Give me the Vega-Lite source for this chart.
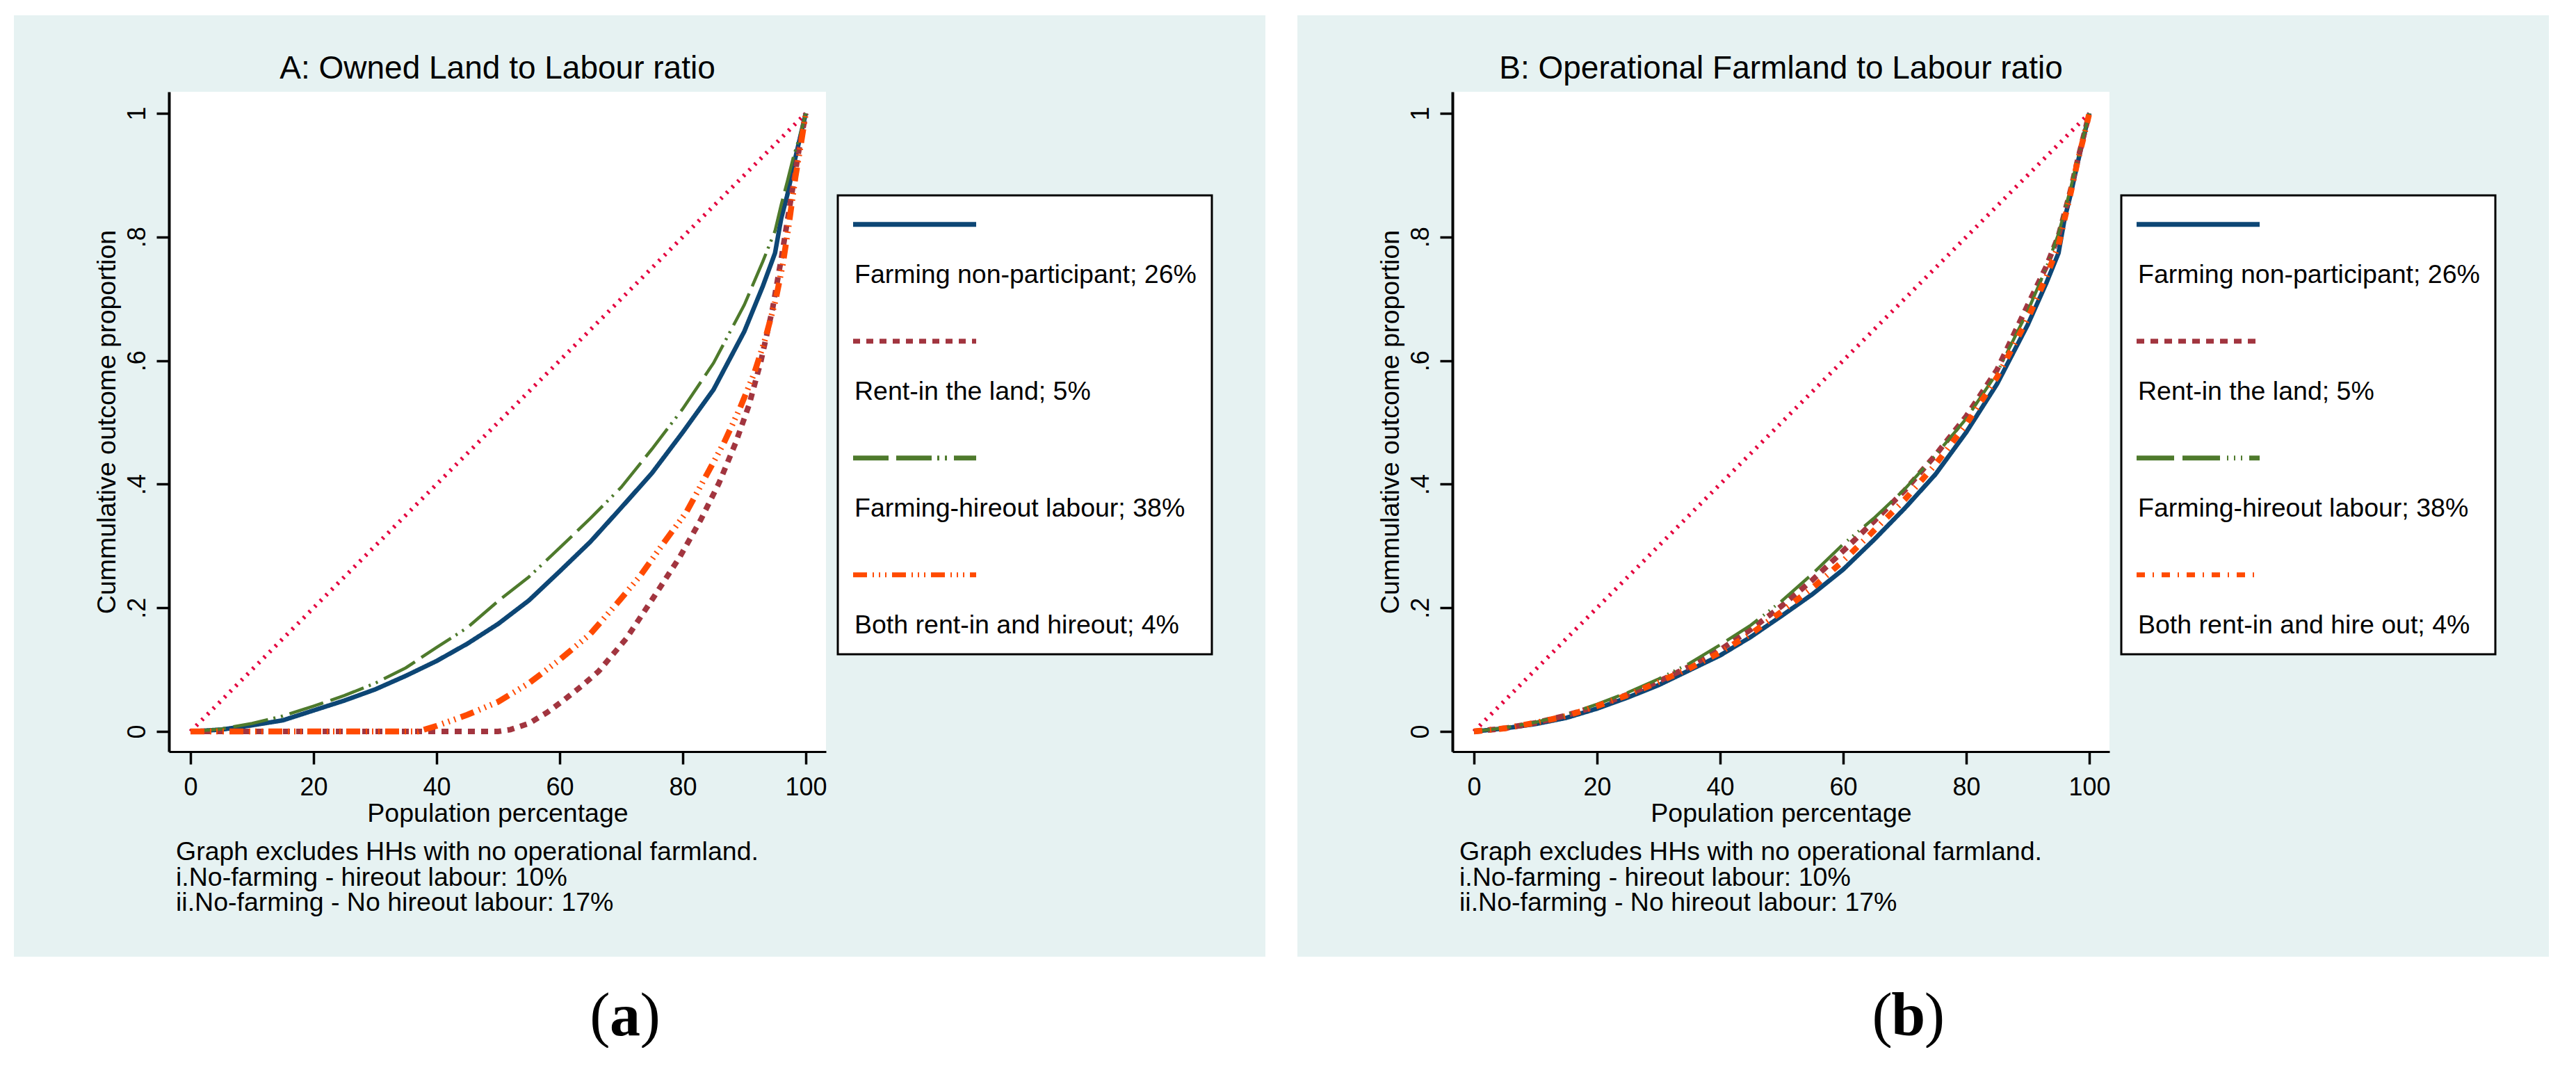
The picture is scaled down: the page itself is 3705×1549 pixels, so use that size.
{
  "$schema": "https://vega.github.io/schema/vega-lite/v6.json",
  "background": "white",
  "padding": {"left": 19, "top": 22, "right": 0, "bottom": 0},
  "spacing": 44,
  "datasets": {
    "equality": [{"x": 0, "y": 0}, {"x": 100, "y": 1}],
    "lorenzA": [
      {"g": "Farming non-participant; 26%", "x": 0, "y": 0},
      {"g": "Farming non-participant; 26%", "x": 5, "y": 0.003},
      {"g": "Farming non-participant; 26%", "x": 10, "y": 0.01},
      {"g": "Farming non-participant; 26%", "x": 15, "y": 0.018},
      {"g": "Farming non-participant; 26%", "x": 20, "y": 0.034},
      {"g": "Farming non-participant; 26%", "x": 25, "y": 0.05},
      {"g": "Farming non-participant; 26%", "x": 30, "y": 0.068},
      {"g": "Farming non-participant; 26%", "x": 35, "y": 0.09},
      {"g": "Farming non-participant; 26%", "x": 40, "y": 0.114},
      {"g": "Farming non-participant; 26%", "x": 45, "y": 0.142},
      {"g": "Farming non-participant; 26%", "x": 50, "y": 0.174},
      {"g": "Farming non-participant; 26%", "x": 55, "y": 0.212},
      {"g": "Farming non-participant; 26%", "x": 60, "y": 0.259},
      {"g": "Farming non-participant; 26%", "x": 65, "y": 0.307},
      {"g": "Farming non-participant; 26%", "x": 70, "y": 0.362},
      {"g": "Farming non-participant; 26%", "x": 75, "y": 0.418},
      {"g": "Farming non-participant; 26%", "x": 80, "y": 0.484},
      {"g": "Farming non-participant; 26%", "x": 85, "y": 0.553},
      {"g": "Farming non-participant; 26%", "x": 90, "y": 0.647},
      {"g": "Farming non-participant; 26%", "x": 93, "y": 0.72},
      {"g": "Farming non-participant; 26%", "x": 95, "y": 0.774},
      {"g": "Farming non-participant; 26%", "x": 96, "y": 0.83},
      {"g": "Farming non-participant; 26%", "x": 97, "y": 0.868},
      {"g": "Farming non-participant; 26%", "x": 98, "y": 0.915},
      {"g": "Farming non-participant; 26%", "x": 99, "y": 0.958},
      {"g": "Farming non-participant; 26%", "x": 100, "y": 1},
      {"g": "Rent-in the land; 5%", "x": 0, "y": 0},
      {"g": "Rent-in the land; 5%", "x": 10, "y": 0},
      {"g": "Rent-in the land; 5%", "x": 20, "y": 0},
      {"g": "Rent-in the land; 5%", "x": 30, "y": 0},
      {"g": "Rent-in the land; 5%", "x": 40, "y": 0},
      {"g": "Rent-in the land; 5%", "x": 50, "y": 0},
      {"g": "Rent-in the land; 5%", "x": 52, "y": 0.003},
      {"g": "Rent-in the land; 5%", "x": 55, "y": 0.013},
      {"g": "Rent-in the land; 5%", "x": 58, "y": 0.031},
      {"g": "Rent-in the land; 5%", "x": 60.7, "y": 0.051},
      {"g": "Rent-in the land; 5%", "x": 63.5, "y": 0.073},
      {"g": "Rent-in the land; 5%", "x": 66.3, "y": 0.097},
      {"g": "Rent-in the land; 5%", "x": 70.8, "y": 0.15},
      {"g": "Rent-in the land; 5%", "x": 75.4, "y": 0.219},
      {"g": "Rent-in the land; 5%", "x": 79.5, "y": 0.282},
      {"g": "Rent-in the land; 5%", "x": 82.9, "y": 0.342},
      {"g": "Rent-in the land; 5%", "x": 85.9, "y": 0.402},
      {"g": "Rent-in the land; 5%", "x": 88.6, "y": 0.467},
      {"g": "Rent-in the land; 5%", "x": 90.8, "y": 0.529},
      {"g": "Rent-in the land; 5%", "x": 92.7, "y": 0.599},
      {"g": "Rent-in the land; 5%", "x": 94.6, "y": 0.684},
      {"g": "Rent-in the land; 5%", "x": 96.1, "y": 0.77},
      {"g": "Rent-in the land; 5%", "x": 97.6, "y": 0.863},
      {"g": "Rent-in the land; 5%", "x": 98.9, "y": 0.942},
      {"g": "Rent-in the land; 5%", "x": 100, "y": 1},
      {"g": "Farming-hireout labour; 38%", "x": 0, "y": 0},
      {"g": "Farming-hireout labour; 38%", "x": 5, "y": 0.004},
      {"g": "Farming-hireout labour; 38%", "x": 10, "y": 0.013},
      {"g": "Farming-hireout labour; 38%", "x": 15, "y": 0.025},
      {"g": "Farming-hireout labour; 38%", "x": 20, "y": 0.041},
      {"g": "Farming-hireout labour; 38%", "x": 25, "y": 0.058},
      {"g": "Farming-hireout labour; 38%", "x": 30, "y": 0.078},
      {"g": "Farming-hireout labour; 38%", "x": 35, "y": 0.103},
      {"g": "Farming-hireout labour; 38%", "x": 40, "y": 0.136},
      {"g": "Farming-hireout labour; 38%", "x": 45, "y": 0.168},
      {"g": "Farming-hireout labour; 38%", "x": 50, "y": 0.211},
      {"g": "Farming-hireout labour; 38%", "x": 55, "y": 0.25},
      {"g": "Farming-hireout labour; 38%", "x": 60, "y": 0.297},
      {"g": "Farming-hireout labour; 38%", "x": 65, "y": 0.345},
      {"g": "Farming-hireout labour; 38%", "x": 70, "y": 0.395},
      {"g": "Farming-hireout labour; 38%", "x": 75, "y": 0.457},
      {"g": "Farming-hireout labour; 38%", "x": 80, "y": 0.522},
      {"g": "Farming-hireout labour; 38%", "x": 85, "y": 0.596},
      {"g": "Farming-hireout labour; 38%", "x": 90, "y": 0.69},
      {"g": "Farming-hireout labour; 38%", "x": 93, "y": 0.76},
      {"g": "Farming-hireout labour; 38%", "x": 95, "y": 0.81},
      {"g": "Farming-hireout labour; 38%", "x": 96, "y": 0.852},
      {"g": "Farming-hireout labour; 38%", "x": 97, "y": 0.89},
      {"g": "Farming-hireout labour; 38%", "x": 98, "y": 0.93},
      {"g": "Farming-hireout labour; 38%", "x": 99, "y": 0.962},
      {"g": "Farming-hireout labour; 38%", "x": 100, "y": 1},
      {"g": "Both rent-in and hireout; 4%", "x": 0, "y": 0},
      {"g": "Both rent-in and hireout; 4%", "x": 10, "y": 0},
      {"g": "Both rent-in and hireout; 4%", "x": 20, "y": 0},
      {"g": "Both rent-in and hireout; 4%", "x": 30, "y": 0},
      {"g": "Both rent-in and hireout; 4%", "x": 37, "y": 0},
      {"g": "Both rent-in and hireout; 4%", "x": 40, "y": 0.009},
      {"g": "Both rent-in and hireout; 4%", "x": 42.5, "y": 0.018},
      {"g": "Both rent-in and hireout; 4%", "x": 45, "y": 0.027},
      {"g": "Both rent-in and hireout; 4%", "x": 50, "y": 0.048},
      {"g": "Both rent-in and hireout; 4%", "x": 55, "y": 0.078},
      {"g": "Both rent-in and hireout; 4%", "x": 60, "y": 0.116},
      {"g": "Both rent-in and hireout; 4%", "x": 65, "y": 0.158},
      {"g": "Both rent-in and hireout; 4%", "x": 69.3, "y": 0.207},
      {"g": "Both rent-in and hireout; 4%", "x": 73.1, "y": 0.252},
      {"g": "Both rent-in and hireout; 4%", "x": 76.9, "y": 0.305},
      {"g": "Both rent-in and hireout; 4%", "x": 80.6, "y": 0.355},
      {"g": "Both rent-in and hireout; 4%", "x": 83.6, "y": 0.41},
      {"g": "Both rent-in and hireout; 4%", "x": 86.7, "y": 0.467},
      {"g": "Both rent-in and hireout; 4%", "x": 89.3, "y": 0.523},
      {"g": "Both rent-in and hireout; 4%", "x": 91.6, "y": 0.579},
      {"g": "Both rent-in and hireout; 4%", "x": 93.4, "y": 0.635},
      {"g": "Both rent-in and hireout; 4%", "x": 95.1, "y": 0.698},
      {"g": "Both rent-in and hireout; 4%", "x": 96.3, "y": 0.758},
      {"g": "Both rent-in and hireout; 4%", "x": 97.2, "y": 0.817},
      {"g": "Both rent-in and hireout; 4%", "x": 98.3, "y": 0.896},
      {"g": "Both rent-in and hireout; 4%", "x": 99.2, "y": 0.95},
      {"g": "Both rent-in and hireout; 4%", "x": 100, "y": 1}
    ],
    "lorenzB": [
      {"g": "Farming non-participant; 26%", "x": 0, "y": 0},
      {"g": "Farming non-participant; 26%", "x": 5, "y": 0.005},
      {"g": "Farming non-participant; 26%", "x": 10, "y": 0.012},
      {"g": "Farming non-participant; 26%", "x": 15, "y": 0.022},
      {"g": "Farming non-participant; 26%", "x": 20, "y": 0.037},
      {"g": "Farming non-participant; 26%", "x": 25, "y": 0.055},
      {"g": "Farming non-participant; 26%", "x": 30, "y": 0.075},
      {"g": "Farming non-participant; 26%", "x": 35, "y": 0.099},
      {"g": "Farming non-participant; 26%", "x": 40, "y": 0.123},
      {"g": "Farming non-participant; 26%", "x": 45, "y": 0.153},
      {"g": "Farming non-participant; 26%", "x": 50, "y": 0.187},
      {"g": "Farming non-participant; 26%", "x": 55, "y": 0.222},
      {"g": "Farming non-participant; 26%", "x": 60, "y": 0.262},
      {"g": "Farming non-participant; 26%", "x": 65, "y": 0.31},
      {"g": "Farming non-participant; 26%", "x": 70, "y": 0.361},
      {"g": "Farming non-participant; 26%", "x": 75, "y": 0.416},
      {"g": "Farming non-participant; 26%", "x": 80, "y": 0.484},
      {"g": "Farming non-participant; 26%", "x": 85, "y": 0.562},
      {"g": "Farming non-participant; 26%", "x": 90, "y": 0.658},
      {"g": "Farming non-participant; 26%", "x": 93, "y": 0.725},
      {"g": "Farming non-participant; 26%", "x": 95, "y": 0.774},
      {"g": "Farming non-participant; 26%", "x": 96, "y": 0.83},
      {"g": "Farming non-participant; 26%", "x": 97, "y": 0.87},
      {"g": "Farming non-participant; 26%", "x": 98, "y": 0.915},
      {"g": "Farming non-participant; 26%", "x": 99, "y": 0.958},
      {"g": "Farming non-participant; 26%", "x": 100, "y": 1},
      {"g": "Rent-in the land; 5%", "x": 0, "y": 0},
      {"g": "Rent-in the land; 5%", "x": 5, "y": 0.005},
      {"g": "Rent-in the land; 5%", "x": 10, "y": 0.014},
      {"g": "Rent-in the land; 5%", "x": 15, "y": 0.026},
      {"g": "Rent-in the land; 5%", "x": 20, "y": 0.041},
      {"g": "Rent-in the land; 5%", "x": 25, "y": 0.06},
      {"g": "Rent-in the land; 5%", "x": 30, "y": 0.081},
      {"g": "Rent-in the land; 5%", "x": 35, "y": 0.105},
      {"g": "Rent-in the land; 5%", "x": 40, "y": 0.132},
      {"g": "Rent-in the land; 5%", "x": 45, "y": 0.165},
      {"g": "Rent-in the land; 5%", "x": 50, "y": 0.203},
      {"g": "Rent-in the land; 5%", "x": 55, "y": 0.245},
      {"g": "Rent-in the land; 5%", "x": 60, "y": 0.292},
      {"g": "Rent-in the land; 5%", "x": 65, "y": 0.34},
      {"g": "Rent-in the land; 5%", "x": 70, "y": 0.39},
      {"g": "Rent-in the land; 5%", "x": 75, "y": 0.447},
      {"g": "Rent-in the land; 5%", "x": 80, "y": 0.51},
      {"g": "Rent-in the land; 5%", "x": 85, "y": 0.585},
      {"g": "Rent-in the land; 5%", "x": 90, "y": 0.69},
      {"g": "Rent-in the land; 5%", "x": 93, "y": 0.752},
      {"g": "Rent-in the land; 5%", "x": 95, "y": 0.802},
      {"g": "Rent-in the land; 5%", "x": 97, "y": 0.877},
      {"g": "Rent-in the land; 5%", "x": 98, "y": 0.92},
      {"g": "Rent-in the land; 5%", "x": 99, "y": 0.96},
      {"g": "Rent-in the land; 5%", "x": 100, "y": 1},
      {"g": "Farming-hireout labour; 38%", "x": 0, "y": 0},
      {"g": "Farming-hireout labour; 38%", "x": 5, "y": 0.006},
      {"g": "Farming-hireout labour; 38%", "x": 10, "y": 0.015},
      {"g": "Farming-hireout labour; 38%", "x": 15, "y": 0.027},
      {"g": "Farming-hireout labour; 38%", "x": 20, "y": 0.044},
      {"g": "Farming-hireout labour; 38%", "x": 25, "y": 0.063},
      {"g": "Farming-hireout labour; 38%", "x": 30, "y": 0.085},
      {"g": "Farming-hireout labour; 38%", "x": 35, "y": 0.11},
      {"g": "Farming-hireout labour; 38%", "x": 40, "y": 0.14},
      {"g": "Farming-hireout labour; 38%", "x": 45, "y": 0.172},
      {"g": "Farming-hireout labour; 38%", "x": 50, "y": 0.211},
      {"g": "Farming-hireout labour; 38%", "x": 55, "y": 0.255},
      {"g": "Farming-hireout labour; 38%", "x": 60, "y": 0.303},
      {"g": "Farming-hireout labour; 38%", "x": 65, "y": 0.345},
      {"g": "Farming-hireout labour; 38%", "x": 70, "y": 0.392},
      {"g": "Farming-hireout labour; 38%", "x": 75, "y": 0.447},
      {"g": "Farming-hireout labour; 38%", "x": 80, "y": 0.506},
      {"g": "Farming-hireout labour; 38%", "x": 85, "y": 0.58},
      {"g": "Farming-hireout labour; 38%", "x": 90, "y": 0.68},
      {"g": "Farming-hireout labour; 38%", "x": 93, "y": 0.75},
      {"g": "Farming-hireout labour; 38%", "x": 95, "y": 0.805},
      {"g": "Farming-hireout labour; 38%", "x": 97, "y": 0.88},
      {"g": "Farming-hireout labour; 38%", "x": 98, "y": 0.922},
      {"g": "Farming-hireout labour; 38%", "x": 99, "y": 0.961},
      {"g": "Farming-hireout labour; 38%", "x": 100, "y": 1},
      {"g": "Both rent-in and hire out; 4%", "x": 0, "y": 0},
      {"g": "Both rent-in and hire out; 4%", "x": 5, "y": 0.005},
      {"g": "Both rent-in and hire out; 4%", "x": 10, "y": 0.014},
      {"g": "Both rent-in and hire out; 4%", "x": 15, "y": 0.025},
      {"g": "Both rent-in and hire out; 4%", "x": 20, "y": 0.041},
      {"g": "Both rent-in and hire out; 4%", "x": 25, "y": 0.059},
      {"g": "Both rent-in and hire out; 4%", "x": 30, "y": 0.08},
      {"g": "Both rent-in and hire out; 4%", "x": 35, "y": 0.102},
      {"g": "Both rent-in and hire out; 4%", "x": 40, "y": 0.128},
      {"g": "Both rent-in and hire out; 4%", "x": 45, "y": 0.158},
      {"g": "Both rent-in and hire out; 4%", "x": 50, "y": 0.194},
      {"g": "Both rent-in and hire out; 4%", "x": 55, "y": 0.232},
      {"g": "Both rent-in and hire out; 4%", "x": 60, "y": 0.276},
      {"g": "Both rent-in and hire out; 4%", "x": 65, "y": 0.325},
      {"g": "Both rent-in and hire out; 4%", "x": 70, "y": 0.375},
      {"g": "Both rent-in and hire out; 4%", "x": 75, "y": 0.432},
      {"g": "Both rent-in and hire out; 4%", "x": 80, "y": 0.497},
      {"g": "Both rent-in and hire out; 4%", "x": 85, "y": 0.573},
      {"g": "Both rent-in and hire out; 4%", "x": 90, "y": 0.668},
      {"g": "Both rent-in and hire out; 4%", "x": 93, "y": 0.735},
      {"g": "Both rent-in and hire out; 4%", "x": 95, "y": 0.787},
      {"g": "Both rent-in and hire out; 4%", "x": 97, "y": 0.872},
      {"g": "Both rent-in and hire out; 4%", "x": 98, "y": 0.918},
      {"g": "Both rent-in and hire out; 4%", "x": 99, "y": 0.958},
      {"g": "Both rent-in and hire out; 4%", "x": 100, "y": 1}
    ]
  },
  "hconcat": [
    {
      "width": 945,
      "height": 949,
      "layer": [
        {
          "data": {"values": [{}]},
          "mark": {"type": "rect", "color": "#e6f2f2", "clip": false},
          "encoding": {
            "x": {
              "datum": -28.702, "type": "quantitative",
              "scale": {"domain": [-3.503, 103.28], "nice": false, "zero": false},
              "axis": {"title": "Population percentage", "values": [0, 20, 40, 60, 80, 100], "domainWidth": 3, "labelBaseline": "alphabetic", "labelPadding": 44, "titleBaseline": "alphabetic", "titleY": 100, "zindex": 1}
            },
            "x2": {"datum": 174.697},
            "y": {
              "datum": 1.15863, "type": "quantitative",
              "scale": {"domain": [-0.0326, 1.0349], "nice": false, "zero": false},
              "axis": {"title": "Cummulative outcome proportion", "values": [0, 0.2, 0.4, 0.6, 0.8, 1], "labelExpr": "replace(format(datum.value, '.1~f'), '0.', '.')", "labelAngle": -90, "labelAlign": "center", "labelBaseline": "alphabetic", "labelPadding": 17, "domainWidth": 4, "titleX": -78, "titleY": 474.5, "titleAngle": -90, "titleAlign": "center", "titleBaseline": "alphabetic", "zindex": 1}
            },
            "y2": {"datum": -0.36443}
          }
        },
        {
          "data": {"values": [{}]},
          "mark": {"type": "rect", "color": "white"},
          "encoding": {
            "x": {"datum": -3.503, "type": "quantitative"},
            "x2": {"datum": 103.28},
            "y": {"datum": -0.0326, "type": "quantitative"},
            "y2": {"datum": 1.0349}
          }
        },
        {
          "data": {"name": "equality"},
          "mark": {"type": "line", "color": "#e4003e", "strokeWidth": 6, "strokeDash": [3, 8.5]},
          "encoding": {
            "x": {"field": "x", "type": "quantitative"},
            "y": {"field": "y", "type": "quantitative"}
          }
        },
        {
          "data": {"name": "lorenzA"},
          "encoding": {
            "x": {"field": "x", "type": "quantitative"},
            "y": {"field": "y", "type": "quantitative"},
            "color": {
              "field": "g", "type": "nominal",
              "scale": {"domain": ["Farming non-participant; 26%", "Rent-in the land; 5%", "Farming-hireout labour; 38%", "Both rent-in and hireout; 4%"], "range": ["#0d4675", "#a2353f", "#4e7a2c", "#ff4a00"]},
              "legend": {"title": " ", "orient": "none", "legendX": 962, "legendY": 149, "zindex": 1}
            },
            "strokeDash": {
              "field": "g", "type": "nominal",
              "scale": {"domain": ["Farming non-participant; 26%", "Rent-in the land; 5%", "Farming-hireout labour; 38%", "Both rent-in and hireout; 4%"], "range": [[1, 0], [10, 9], [51, 11, 51, 8, 3, 8, 3, 10], [20, 8, 2, 7, 2, 7, 2, 8]]},
              "legend": {"title": " ", "orient": "none", "legendX": 962, "legendY": 149, "zindex": 1}
            }
          },
          "layer": [
            {"transform": [{"filter": "datum.g === 'Farming non-participant; 26%'"}], "mark": {"type": "line", "strokeWidth": 6.5}},
            {"transform": [{"filter": "datum.g === 'Rent-in the land; 5%'"}], "mark": {"type": "line", "strokeWidth": 8}},
            {"transform": [{"filter": "datum.g === 'Farming-hireout labour; 38%'"}], "mark": {"type": "line", "strokeWidth": 4.5}},
            {"transform": [{"filter": "datum.g === 'Both rent-in and hireout; 4%'"}], "mark": {"type": "line", "strokeWidth": 8.5}}
          ]
        },
        {
          "data": {"values": [{}]},
          "mark": {"type": "text", "text": "A: Owned Land to Labour ratio", "fontSize": 46, "align": "center", "baseline": "alphabetic", "color": "black", "clip": false},
          "encoding": {
            "x": {"datum": 49.89, "type": "quantitative"},
            "y": {"datum": 1.0563, "type": "quantitative"}
          }
        },
        {
          "data": {"values": [{}]},
          "mark": {"type": "text", "text": ["Graph excludes HHs with no operational farmland.", "i.No-farming - hireout labour: 10%", "ii.No-farming - No hireout labour: 17%"], "fontSize": 37.5, "lineHeight": 36.7, "align": "left", "baseline": "alphabetic", "color": "black", "clip": false},
          "encoding": {
            "x": {"datum": -2.373, "type": "quantitative"},
            "y": {"datum": -0.2081, "type": "quantitative"}
          }
        },
        {
          "data": {"values": [{}]},
          "mark": {"type": "text", "text": "(", "font": "Liberation Serif", "fontSize": 88, "align": "right", "baseline": "alphabetic", "color": "black", "clip": false},
          "encoding": {
            "x": {"datum": 68.2, "type": "quantitative"},
            "y": {"datum": -0.4915, "type": "quantitative"}
          }
        },
        {
          "data": {"values": [{}]},
          "mark": {"type": "text", "text": "a", "font": "Liberation Serif", "fontWeight": "bold", "fontSize": 88, "align": "center", "baseline": "alphabetic", "color": "black", "clip": false},
          "encoding": {
            "x": {"datum": 70.62, "type": "quantitative"},
            "y": {"datum": -0.4915, "type": "quantitative"}
          }
        },
        {
          "data": {"values": [{}]},
          "mark": {"type": "text", "text": ")", "font": "Liberation Serif", "fontSize": 88, "align": "left", "baseline": "alphabetic", "color": "black", "clip": false},
          "encoding": {
            "x": {"datum": 73.05, "type": "quantitative"},
            "y": {"datum": -0.4915, "type": "quantitative"}
          }
        }
      ]
    },
    {
      "width": 945,
      "height": 949,
      "layer": [
        {
          "data": {"values": [{}]},
          "mark": {"type": "rect", "color": "#e6f2f2", "clip": false},
          "encoding": {
            "x": {
              "datum": -28.702, "type": "quantitative",
              "scale": {"domain": [-3.503, 103.28], "nice": false, "zero": false},
              "axis": {"title": "Population percentage", "values": [0, 20, 40, 60, 80, 100], "domainWidth": 3, "labelBaseline": "alphabetic", "labelPadding": 44, "titleBaseline": "alphabetic", "titleY": 100, "zindex": 1}
            },
            "x2": {"datum": 174.697},
            "y": {
              "datum": 1.15863, "type": "quantitative",
              "scale": {"domain": [-0.0326, 1.0349], "nice": false, "zero": false},
              "axis": {"title": "Cummulative outcome proportion", "values": [0, 0.2, 0.4, 0.6, 0.8, 1], "labelExpr": "replace(format(datum.value, '.1~f'), '0.', '.')", "labelAngle": -90, "labelAlign": "center", "labelBaseline": "alphabetic", "labelPadding": 17, "domainWidth": 4, "titleX": -78, "titleY": 474.5, "titleAngle": -90, "titleAlign": "center", "titleBaseline": "alphabetic", "zindex": 1}
            },
            "y2": {"datum": -0.36443}
          }
        },
        {
          "data": {"values": [{}]},
          "mark": {"type": "rect", "color": "white"},
          "encoding": {
            "x": {"datum": -3.503, "type": "quantitative"},
            "x2": {"datum": 103.28},
            "y": {"datum": -0.0326, "type": "quantitative"},
            "y2": {"datum": 1.0349}
          }
        },
        {
          "data": {"name": "equality"},
          "mark": {"type": "line", "color": "#e4003e", "strokeWidth": 6, "strokeDash": [3, 8.5]},
          "encoding": {
            "x": {"field": "x", "type": "quantitative"},
            "y": {"field": "y", "type": "quantitative"}
          }
        },
        {
          "data": {"name": "lorenzB"},
          "encoding": {
            "x": {"field": "x", "type": "quantitative"},
            "y": {"field": "y", "type": "quantitative"},
            "color": {
              "field": "g", "type": "nominal",
              "scale": {"domain": ["Farming non-participant; 26%", "Rent-in the land; 5%", "Farming-hireout labour; 38%", "Both rent-in and hire out; 4%"], "range": ["#0d4675", "#a2353f", "#4e7a2c", "#ff4a00"]},
              "legend": {"title": " ", "orient": "none", "legendX": 962, "legendY": 149, "zindex": 1}
            },
            "strokeDash": {
              "field": "g", "type": "nominal",
              "scale": {"domain": ["Farming non-participant; 26%", "Rent-in the land; 5%", "Farming-hireout labour; 38%", "Both rent-in and hire out; 4%"], "range": [[1, 0], [11, 9], [54, 12, 54, 10, 2, 8, 2, 8, 2, 10], [12, 11, 2, 11]]},
              "legend": {"title": " ", "orient": "none", "legendX": 962, "legendY": 149, "zindex": 1}
            }
          },
          "layer": [
            {"transform": [{"filter": "datum.g === 'Farming non-participant; 26%'"}], "mark": {"type": "line", "strokeWidth": 6.5}},
            {"transform": [{"filter": "datum.g === 'Rent-in the land; 5%'"}], "mark": {"type": "line", "strokeWidth": 8}},
            {"transform": [{"filter": "datum.g === 'Farming-hireout labour; 38%'"}], "mark": {"type": "line", "strokeWidth": 4.5}},
            {"transform": [{"filter": "datum.g === 'Both rent-in and hire out; 4%'"}], "mark": {"type": "line", "strokeWidth": 8.5}}
          ]
        },
        {
          "data": {"values": [{}]},
          "mark": {"type": "text", "text": "B: Operational Farmland to Labour ratio", "fontSize": 46, "align": "center", "baseline": "alphabetic", "color": "black", "clip": false},
          "encoding": {
            "x": {"datum": 49.89, "type": "quantitative"},
            "y": {"datum": 1.0563, "type": "quantitative"}
          }
        },
        {
          "data": {"values": [{}]},
          "mark": {"type": "text", "text": ["Graph excludes HHs with no operational farmland.", "i.No-farming - hireout labour: 10%", "ii.No-farming - No hireout labour: 17%"], "fontSize": 37.5, "lineHeight": 36.7, "align": "left", "baseline": "alphabetic", "color": "black", "clip": false},
          "encoding": {
            "x": {"datum": -2.373, "type": "quantitative"},
            "y": {"datum": -0.2081, "type": "quantitative"}
          }
        },
        {
          "data": {"values": [{}]},
          "mark": {"type": "text", "text": "(", "font": "Liberation Serif", "fontSize": 88, "align": "right", "baseline": "alphabetic", "color": "black", "clip": false},
          "encoding": {
            "x": {"datum": 68.0, "type": "quantitative"},
            "y": {"datum": -0.4915, "type": "quantitative"}
          }
        },
        {
          "data": {"values": [{}]},
          "mark": {"type": "text", "text": "b", "font": "Liberation Serif", "fontWeight": "bold", "fontSize": 88, "align": "center", "baseline": "alphabetic", "color": "black", "clip": false},
          "encoding": {
            "x": {"datum": 70.6, "type": "quantitative"},
            "y": {"datum": -0.4915, "type": "quantitative"}
          }
        },
        {
          "data": {"values": [{}]},
          "mark": {"type": "text", "text": ")", "font": "Liberation Serif", "fontSize": 88, "align": "left", "baseline": "alphabetic", "color": "black", "clip": false},
          "encoding": {
            "x": {"datum": 73.2, "type": "quantitative"},
            "y": {"datum": -0.4915, "type": "quantitative"}
          }
        }
      ]
    }
  ],
  "resolve": {
    "scale": {"color": "independent", "strokeDash": "independent", "x": "independent", "y": "independent"},
    "legend": {"color": "independent", "strokeDash": "independent"}
  },
  "config": {
    "font": "Liberation Sans",
    "view": {"stroke": null, "fill": "white"},
    "axis": {
      "grid": false,
      "domainColor": "black",
      "tickColor": "black",
      "tickWidth": 3.5,
      "tickSize": 18,
      "labelColor": "black",
      "labelFont": "Liberation Sans",
      "labelFontSize": 36,
      "titleColor": "black",
      "titleFont": "Liberation Sans",
      "titleFontSize": 37.5,
      "titleFontWeight": "normal",
      "labelFlush": false,
      "labelOverlap": false,
      "labelBound": false
    },
    "legend": {
      "symbolType": "M-1.875,-7.3H15.825",
      "symbolSize": 400,
      "symbolStrokeWidth": 7,
      "labelOffset": -35.5,
      "labelFont": "Liberation Sans",
      "labelFontSize": 37.5,
      "labelColor": "black",
      "labelLimit": 1000,
      "rowPadding": 61,
      "padding": 22,
      "fillColor": "white",
      "strokeColor": "black",
      "strokeWidth": 3,
      "titleFontSize": 12,
      "titlePadding": 62
    }
  }
}
